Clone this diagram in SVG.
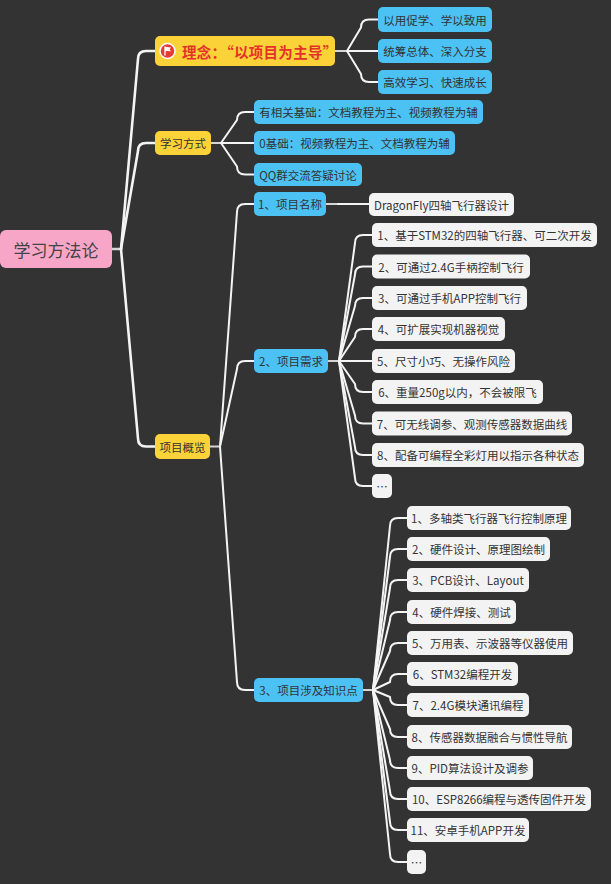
<svg xmlns="http://www.w3.org/2000/svg" width="611" height="884" viewBox="0 0 611 884">
<style>
.bg{fill:#333333}
.root{fill:#f8a6c8}
.y{fill:#fbd238}
.b{fill:#4cc1f3}
.w{fill:#f3f3f3}
text{font-family:"Noto Sans CJK SC","Liberation Sans",sans-serif;font-size:11.5px;fill:#333;text-anchor:middle;dominant-baseline:central}
.rt{font-size:17px;fill:#444}
.red{font-size:14.5px;font-weight:bold;fill:#e4322b;text-anchor:start;letter-spacing:0.3px}
.c path{fill:none;stroke:#f4f4f4;stroke-width:2;stroke-linecap:round;stroke-linejoin:round}
.c .thick{stroke-width:2.6}
.c .stub{stroke:#d6d6d6}
</style>
<rect class="bg" x="0" y="0" width="611" height="884"/>

<g id="connectors" class="c">
  <path class="thick stub" d="M112 249 L121 249"/>
  <path class="thick" d="M121 249 L138 59 Q138 51 146 51 L155 51"/>
  <path class="thick" d="M121 249 L138 151 Q138 143 146 143 L155 143"/>
  <path class="thick" d="M121 249 L138 438.5 Q138 446.5 146 446.5 L155 446.5"/>

  <path class="stub" d="M335 51 L347 51"/>
  <path d="M347 51 L361 27.5 Q361 19.5 369 19.5 L378 19.5"/>
  <path d="M347 51 L378 51"/>
  <path d="M347 51 L361 74 Q361 82 369 82 L378 82"/>

  <path class="stub" d="M211 143 L221 143"/>
  <path d="M221 143 L237 120 Q237 112 245 112 L254 112"/>
  <path d="M221 143 L254 143"/>
  <path d="M221 143 L237 166.5 Q237 174.5 245 174.5 L254 174.5"/>

  <path class="stub" d="M210 446.5 L220 446.5"/>
  <path d="M220 446.5 L237 212 Q237 204 245 204 L254 204"/>
  <path d="M220 446.5 L237 369 Q237 361 245 361 L254 361"/>
  <path d="M220 446.5 L237 682 Q237 690 245 690 L254 690"/>

  <path class="stub" d="M326 204 L338 204"/>
  <path d="M338 204 L369 204"/>

  <path class="stub" d="M328 361 L339 361"/>
  <path d="M339 361 L355 243 Q355 235 363 235 L372 235"/>
  <path d="M339 361 L355 274.5 Q355 266.5 363 266.5 L372 266.5"/>
  <path d="M339 361 L355 306 Q355 298 363 298 L372 298"/>
  <path d="M339 361 L355 337 Q355 329 363 329 L372 329"/>
  <path d="M339 361 L372 361"/>
  <path d="M339 361 L355 384 Q355 392 363 392 L372 392"/>
  <path d="M339 361 L355 415.5 Q355 423.5 363 423.5 L372 423.5"/>
  <path d="M339 361 L355 447 Q355 455 363 455 L372 455"/>
  <path d="M339 361 L355 478 Q355 486 363 486 L372 486"/>

  <path class="stub" d="M363 690 L373 690"/>
  <path d="M373 690 L390 526 Q390 518 398 518 L407 518"/>
  <path d="M373 690 L390 557 Q390 549 398 549 L407 549"/>
  <path d="M373 690 L390 588 Q390 580 398 580 L407 580"/>
  <path d="M373 690 L390 620 Q390 612 398 612 L407 612"/>
  <path d="M373 690 L390 651 Q390 643 398 643 L407 643"/>
  <path d="M373 690 L390 682 Q390 674 398 674 L407 674"/>
  <path d="M373 690 L390 697 Q390 705 398 705 L407 705"/>
  <path d="M373 690 L390 729 Q390 737 398 737 L407 737"/>
  <path d="M373 690 L390 760 Q390 768 398 768 L407 768"/>
  <path d="M373 690 L390 791 Q390 799 398 799 L407 799"/>
  <path d="M373 690 L390 822 Q390 830 398 830 L407 830"/>
  <path d="M373 690 L390 854 Q390 862 398 862 L407 862"/>
</g>

<g id="root"><rect class="root" x="0" y="230" width="112" height="38" rx="6"/><text class="rt" x="56" y="249">学习方法论</text></g>

<g id="n-idea">
  <rect class="y" x="155" y="36" width="180" height="30" rx="5"/>
  <circle cx="167.5" cy="51" r="7.5" fill="#e53a35" stroke="#ffffff" stroke-width="1.5"/>
  <path d="M165 55.5 L165 46.5" stroke="#ffffff" stroke-width="1.3" fill="none"/>
  <path d="M165 46.8 L171 47.6 L169.6 49.4 L171 51.2 L165 51 Z" fill="#ffffff"/>
  <text class="red" x="182" y="51">理念：“以项目为主导”</text>
</g>
<g id="n-idea-1"><rect class="b" x="378" y="7" width="114" height="25" rx="5"/><text x="435" y="19.5">以用促学、学以致用</text></g>
<g id="n-idea-2"><rect class="b" x="378" y="39" width="114" height="24" rx="5"/><text x="435" y="51">统筹总体、深入分支</text></g>
<g id="n-idea-3"><rect class="b" x="378" y="70" width="114" height="24" rx="5"/><text x="435" y="82">高效学习、快速成长</text></g>

<g id="n-way"><rect class="y" x="155" y="131" width="56" height="24" rx="5"/><text x="183" y="143">学习方式</text></g>
<g id="n-way-1"><rect class="b" x="254" y="100" width="229" height="24" rx="5"/><text x="368.5" y="112">有相关基础：文档教程为主、视频教程为辅</text></g>
<g id="n-way-2"><rect class="b" x="254" y="131" width="201" height="24" rx="5"/><text x="354.5" y="143">0基础：视频教程为主、文档教程为辅</text></g>
<g id="n-way-3"><rect class="b" x="254" y="163" width="108" height="23" rx="5"/><text x="308" y="174.5">QQ群交流答疑讨论</text></g>

<g id="n-overview"><rect class="y" x="155" y="434" width="55" height="25" rx="5"/><text x="182.5" y="446.5">项目概览</text></g>

<g id="n-name"><rect class="b" x="254" y="192" width="72" height="24" rx="5"/><text x="290" y="204">1、项目名称</text></g>
<g id="n-name-1"><rect class="w" x="369" y="193" width="145" height="23" rx="5"/><text x="441.5" y="204.5">DragonFly四轴飞行器设计</text></g>

<g id="n-req"><rect class="b" x="254" y="349" width="74" height="24" rx="5"/><text x="291" y="361">2、项目需求</text></g>
<g id="n-req-1"><rect class="w" x="372" y="223" width="225" height="24" rx="5"/><text x="484.5" y="235">1、基于STM32的四轴飞行器、可二次开发</text></g>
<g id="n-req-2"><rect class="w" x="372" y="254.5" width="158" height="24" rx="5"/><text x="451" y="266.5">2、可通过2.4G手柄控制飞行</text></g>
<g id="n-req-3"><rect class="w" x="372" y="286" width="155" height="24" rx="5"/><text x="449.5" y="298">3、可通过手机APP控制飞行</text></g>
<g id="n-req-4"><rect class="w" x="372" y="317" width="133" height="24" rx="5"/><text x="438.5" y="329">4、可扩展实现机器视觉</text></g>
<g id="n-req-5"><rect class="w" x="372" y="349" width="143" height="24" rx="5"/><text x="443.5" y="361">5、尺寸小巧、无操作风险</text></g>
<g id="n-req-6"><rect class="w" x="372" y="380" width="171" height="24" rx="5"/><text x="457.5" y="392">6、重量250g以内，不会被限飞</text></g>
<g id="n-req-7"><rect class="w" x="372" y="411.5" width="200" height="24" rx="5"/><text x="472" y="423.5">7、可无线调参、观测传感器数据曲线</text></g>
<g id="n-req-8"><rect class="w" x="372" y="443" width="212" height="24" rx="5"/><text x="478" y="455">8、配备可编程全彩灯用以指示各种状态</text></g>
<g id="n-req-9"><rect class="w" x="372" y="474" width="20" height="24" rx="5"/><text x="382" y="486">…</text></g>

<g id="n-know"><rect class="b" x="254" y="678" width="109" height="24" rx="5"/><text x="308.5" y="690">3、项目涉及知识点</text></g>
<g id="n-know-1"><rect class="w" x="407" y="506" width="164" height="24" rx="5"/><text x="489" y="518">1、多轴类飞行器飞行控制原理</text></g>
<g id="n-know-2"><rect class="w" x="407" y="537" width="143" height="24" rx="5"/><text x="478.5" y="549">2、硬件设计、原理图绘制</text></g>
<g id="n-know-3"><rect class="w" x="407" y="568" width="122" height="24" rx="5"/><text x="468" y="580">3、PCB设计、Layout</text></g>
<g id="n-know-4"><rect class="w" x="407" y="600" width="109" height="24" rx="5"/><text x="461.5" y="612">4、硬件焊接、测试</text></g>
<g id="n-know-5"><rect class="w" x="407" y="631" width="166" height="24" rx="5"/><text x="490" y="643">5、万用表、示波器等仪器使用</text></g>
<g id="n-know-6"><rect class="w" x="407" y="662" width="111" height="24" rx="5"/><text x="462.5" y="674">6、STM32编程开发</text></g>
<g id="n-know-7"><rect class="w" x="407" y="693" width="122" height="24" rx="5"/><text x="468" y="705">7、2.4G模块通讯编程</text></g>
<g id="n-know-8"><rect class="w" x="407" y="725" width="165" height="24" rx="5"/><text x="489.5" y="737">8、传感器数据融合与惯性导航</text></g>
<g id="n-know-9"><rect class="w" x="407" y="756" width="126" height="24" rx="5"/><text x="470" y="768">9、PID算法设计及调参</text></g>
<g id="n-know-10"><rect class="w" x="407" y="787" width="184" height="24" rx="5"/><text x="499" y="799">10、ESP8266编程与透传固件开发</text></g>
<g id="n-know-11"><rect class="w" x="407" y="818" width="122" height="24" rx="5"/><text x="468" y="830">11、安卓手机APP开发</text></g>
<g id="n-know-12"><rect class="w" x="407" y="850" width="19" height="24" rx="5"/><text x="416.5" y="862">…</text></g>
</svg>
